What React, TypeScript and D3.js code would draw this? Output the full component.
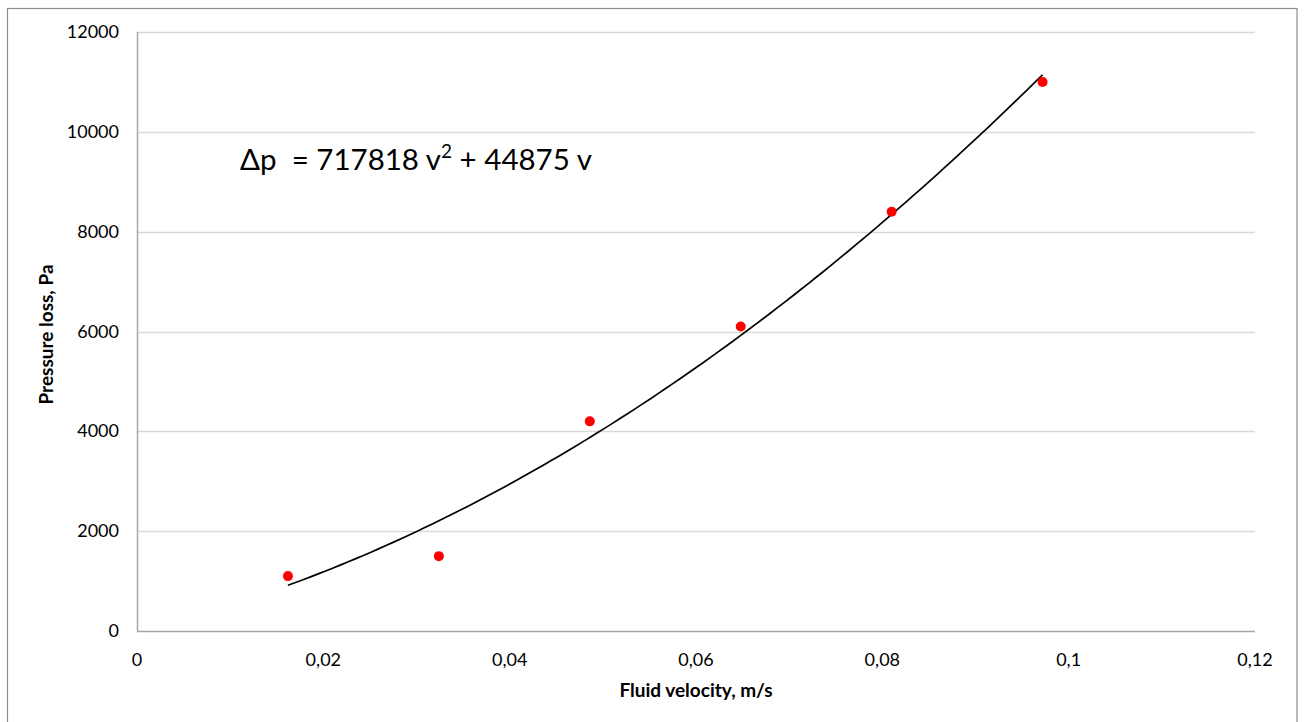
import { useEffect, useRef } from "react";
import * as d3 from "d3";

const VELOCITY = [0.0162, 0.0324, 0.0486, 0.0648, 0.081, 0.0972];
const PRESSURE = [1100, 1500, 4200, 6100, 8400, 11000];

const X_TICKS = [0, 0.02, 0.04, 0.06, 0.08, 0.1, 0.12];
const X_TICK_LABELS = ["0", "0,02", "0,04", "0,06", "0,08", "0,1", "0,12"];
const Y_TICKS = [0, 2000, 4000, 6000, 8000, 10000, 12000];

// trendline coefficients as printed on the chart
const COEF_A = 717818;
const COEF_B = 44875;

const FONT = "Lato, 'Open Sans', sans-serif";

export default function App() {
  const svgRef = useRef<SVGSVGElement | null>(null);

  useEffect(() => {
    const svg = d3.select(svgRef.current);
    svg.selectAll("*").remove();

    const width = 1304;
    const height = 722;
    const margin = { top: 32, right: 49, bottom: 91, left: 137 };

    const x = d3.scaleLinear().domain([0, 0.12]).range([margin.left, width - margin.right]);
    const y = d3.scaleLinear().domain([0, 12000]).range([height - margin.bottom, margin.top]);

    // outer frame
    svg.append("rect")
      .attr("x", 7.5)
      .attr("y", 8.5)
      .attr("width", 1297 - 7.5)
      .attr("height", 740)
      .attr("fill", "#fff")
      .attr("stroke", "#8c8c8c")
      .attr("stroke-width", 1.2);

    // gridlines
    svg.append("g")
      .selectAll("line")
      .data(Y_TICKS.slice(1))
      .join("line")
      .attr("x1", x(0))
      .attr("x2", x(0.12))
      .attr("y1", (d) => Math.round(y(d)) + 0.5)
      .attr("y2", (d) => Math.round(y(d)) + 0.5)
      .attr("stroke", "#d9d9d9")
      .attr("stroke-width", 1.3);

    // axes lines
    svg.append("line")
      .attr("x1", x(0))
      .attr("x2", x(0.12))
      .attr("y1", y(0) + 0.5)
      .attr("y2", y(0) + 0.5)
      .attr("stroke", "#a6a6a6")
      .attr("stroke-width", 1.5);
    svg.append("line")
      .attr("x1", x(0) + 0.5)
      .attr("x2", x(0) + 0.5)
      .attr("y1", y(0))
      .attr("y2", y(12000))
      .attr("stroke", "#a6a6a6")
      .attr("stroke-width", 1.5);

    // tick labels
    svg.append("g")
      .selectAll("text")
      .data(Y_TICKS)
      .join("text")
      .attr("x", 119)
      .attr("y", (d) => y(d) + 6)
      .attr("text-anchor", "end")
      .attr("font-family", FONT)
      .attr("font-size", 18)
      .attr("fill", "#000")
      .text((d) => String(d));

    svg.append("g")
      .selectAll("text")
      .data(X_TICKS)
      .join("text")
      .attr("x", (d) => x(d))
      .attr("y", 666)
      .attr("text-anchor", "middle")
      .attr("font-family", FONT)
      .attr("font-size", 18)
      .attr("fill", "#000")
      .text((_, i) => X_TICK_LABELS[i]);

    // axis titles
    svg.append("text")
      .attr("x", x(0.06))
      .attr("y", 697)
      .attr("text-anchor", "middle")
      .attr("font-family", FONT)
      .attr("font-weight", "bold")
      .attr("font-size", 19)
      .text("Fluid velocity, m/s");

    svg.append("text")
      .attr("transform", `translate(53,${y(6000) + 3}) rotate(-90)`)
      .attr("text-anchor", "middle")
      .attr("font-family", FONT)
      .attr("font-weight", "bold")
      .attr("font-size", 19)
      .text("Pressure loss, Pa");

    // trendline
    const vMin = d3.min(VELOCITY) as number;
    const vMax = d3.max(VELOCITY) as number;
    const curve = d3.range(0, 101).map((i) => {
      const v = vMin + ((vMax - vMin) * i) / 100;
      return [v, COEF_A * v * v + COEF_B * v] as [number, number];
    });
    svg.append("path")
      .datum(curve)
      .attr("fill", "none")
      .attr("stroke", "#000")
      .attr("stroke-width", 1.7)
      .attr("d", d3.line<[number, number]>().x((d) => x(d[0])).y((d) => y(d[1])));

    // data points
    svg.append("g")
      .selectAll("circle")
      .data(VELOCITY.map((v, i) => [v, PRESSURE[i]]))
      .join("circle")
      .attr("cx", (d) => x(d[0]))
      .attr("cy", (d) => y(d[1]))
      .attr("r", 5)
      .attr("fill", "#ff0000");

    // equation label
    const eq = svg.append("text")
      .attr("x", 240)
      .attr("y", 170)
      .attr("font-family", FONT)
      .attr("font-size", 29.5)
      .attr("fill", "#000")
      .style("white-space", "pre");
    eq.append("tspan").text(`Δp  = ${COEF_A} v`);
    eq.append("tspan").attr("dy", -12).attr("font-size", 19).text("2");
    eq.append("tspan").attr("dy", 12).text(` + ${COEF_B} v`);
  }, []);

  return (
    <div style={{ position: "fixed", left: 0, top: 0, width: 1304, height: 722, background: "#fff" }}>
      <svg ref={svgRef} width={1304} height={722} style={{ display: "block" }} />
    </div>
  );
}
